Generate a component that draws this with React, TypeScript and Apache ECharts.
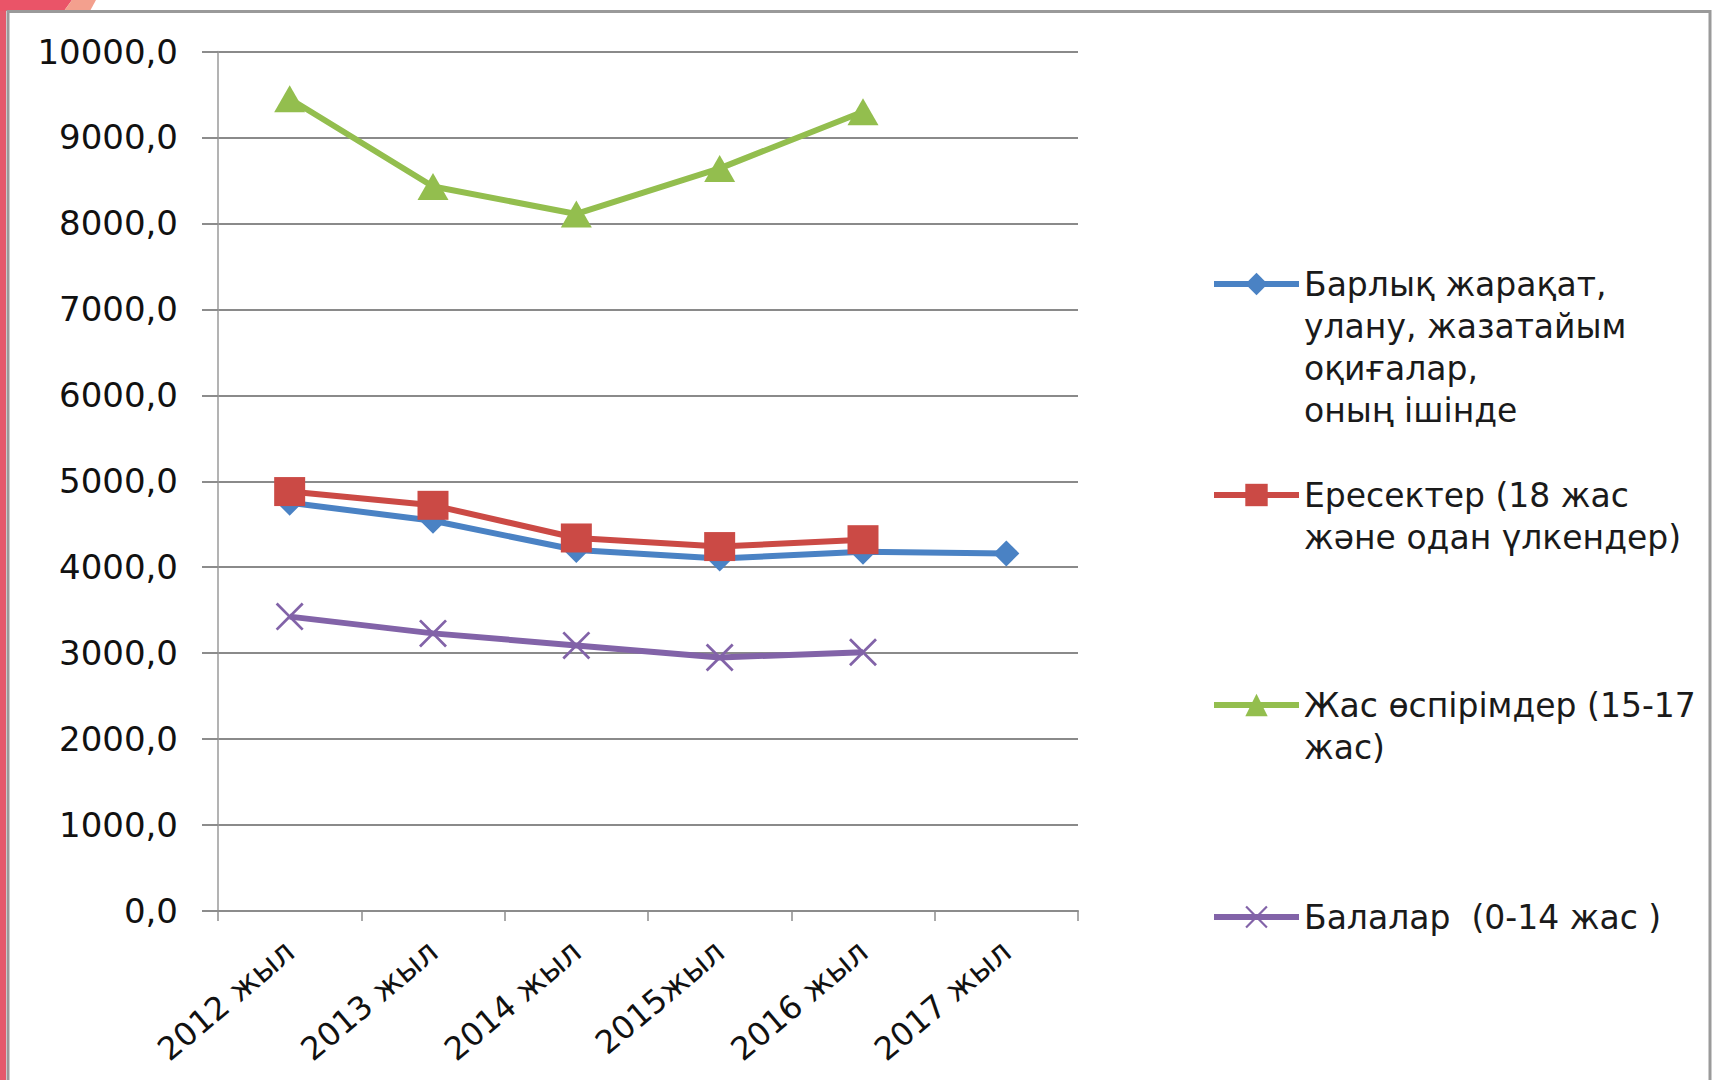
import React, { useEffect, useRef } from "react";
import * as echarts from "echarts";

const categories = ["2012 жыл", "2013 жыл", "2014 жыл", "2015жыл", "2016 жыл", "2017 жыл"];
const totalInjuries = [4750, 4540, 4200, 4100, 4180, 4160];
const adults = [4880, 4720, 4340, 4240, 4320, null];
const teens = [9450, 8430, 8110, 8640, 9300, null];
const children = [3425, 3230, 3090, 2950, 3010, null];
const seriesNames = [
  "Барлық жарақат,\nулану, жазатайым\nоқиғалар,\nоның ішінде",
  "Ересектер (18 жас\nжәне одан үлкендер)",
  "Жас өспірімдер (15-17\nжас)",
  "Балалар  (0-14 жас )",
];
const yMin = 0;
const yMax = 10000;
const yInterval = 1000;

const BLUE = "#4A82C4";
const RED = "#CB4A45";
const GREEN = "#93BE4E";
const PURPLE = "#8263A8";
const FONT = "DejaVu Sans";
const X_SYMBOL =
  "path://M0,0.7L0.7,0L5,4.3L9.3,0L10,0.7L5.7,5L10,9.3L9.3,10L5,5.7L0.7,10L0,9.3L4.3,5Z";

export default function App() {
  const ref = useRef<HTMLDivElement>(null);
  useEffect(() => {
    const chart = echarts.init(ref.current!, null, { renderer: "svg" });
    const lineHeight = 42;
    const iconCenters = [284, 495, 705, 917];
    const legends = seriesNames.map((name, i) => {
      const lines = name.split("\n").length;
      const boxH = (2 * lines - 1) * lineHeight;
      return {
        data: [name],
        formatter: (n: string) => "\n".repeat(lines - 1) + n,
        left: 1211,
        top: iconCenters[i] - boxH / 2,
        orient: "vertical",
        itemWidth: 85,
        itemHeight: 28,
        padding: 0,
        selectedMode: false,
        lineStyle: { width: 6 },
        textStyle: { fontSize: 33, lineHeight, color: "#1a1a1a", fontFamily: FONT },
      };
    });
    const option = {
      animation: false,
      backgroundColor: "#ffffff",
      textStyle: { fontFamily: FONT },
      graphic: [
        { type: "rect", silent: true, z: -10, shape: { x: 0, y: 0, width: 6, height: 1080 }, style: { fill: "#e45a6c" } },
        { type: "polygon", silent: true, z: -10, shape: { points: [[0, 0], [72, 0], [64, 11], [0, 11]] }, style: { fill: "#ea5468" } },
        { type: "polygon", silent: true, z: -10, shape: { points: [[72, 0], [96, 0], [90, 11], [64, 11]] }, style: { fill: "#f3a08e" } },
        { type: "rect", silent: true, z: -9, shape: { x: 8, y: 11.5, width: 1702, height: 1080 }, style: { fill: "none", stroke: "#9a9a9a", lineWidth: 3 } },
      ],
      grid: {
        left: 218,
        top: 51.5,
        width: 860,
        height: 859.5,
        containLabel: false,
        outerBoundsMode: "none",
      },
      xAxis: {
        type: "category",
        data: categories,
        boundaryGap: true,
        axisLine: { lineStyle: { color: "#8c8c8c", width: 2 } },
        axisTick: { show: true, length: 10, interval: 0, lineStyle: { color: "#8c8c8c", width: 1.5 } },
        axisLabel: { rotate: 40, interval: 0, margin: 36, fontSize: 32, color: "#111111", fontFamily: FONT },
        splitLine: { show: false },
      },
      yAxis: {
        type: "value",
        min: yMin,
        max: yMax,
        interval: yInterval,
        axisLine: { show: true, lineStyle: { color: "#9a9a9a", width: 1.5 } },
        axisTick: { show: true, length: 16, lineStyle: { color: "#8c8c8c", width: 2 } },
        axisLabel: {
          margin: 40,
          fontSize: 34,
          color: "#111111",
          fontFamily: FONT,
          formatter: (v: number) => v.toFixed(1).replace(".", ","),
        },
        splitLine: { show: true, lineStyle: { color: "#8a8a8a", width: 2 } },
      },
      legend: legends,
      series: [
        {
          name: seriesNames[0],
          type: "line",
          data: totalInjuries,
          symbol: "diamond",
          symbolSize: [26, 26],
          lineStyle: { width: 6, color: BLUE },
          itemStyle: { color: BLUE },
        },
        {
          name: seriesNames[1],
          type: "line",
          data: adults,
          symbol: "rect",
          symbolSize: [31, 29],
          lineStyle: { width: 6, color: RED },
          itemStyle: { color: RED },
        },
        {
          name: seriesNames[2],
          type: "line",
          data: teens,
          symbol: "triangle",
          symbolSize: [31, 27],
          lineStyle: { width: 6, color: GREEN },
          itemStyle: { color: GREEN },
        },
        {
          name: seriesNames[3],
          type: "line",
          data: children,
          symbol: X_SYMBOL,
          symbolSize: 28,
          lineStyle: { width: 6, color: PURPLE },
          itemStyle: { color: PURPLE },
        },
      ],
    };
    chart.setOption(option as any);
    return () => chart.dispose();
  }, []);
  return (
    <div
      ref={ref}
      style={{ position: "absolute", left: 0, top: 0, width: 1712, height: 1080 }}
    />
  );
}
